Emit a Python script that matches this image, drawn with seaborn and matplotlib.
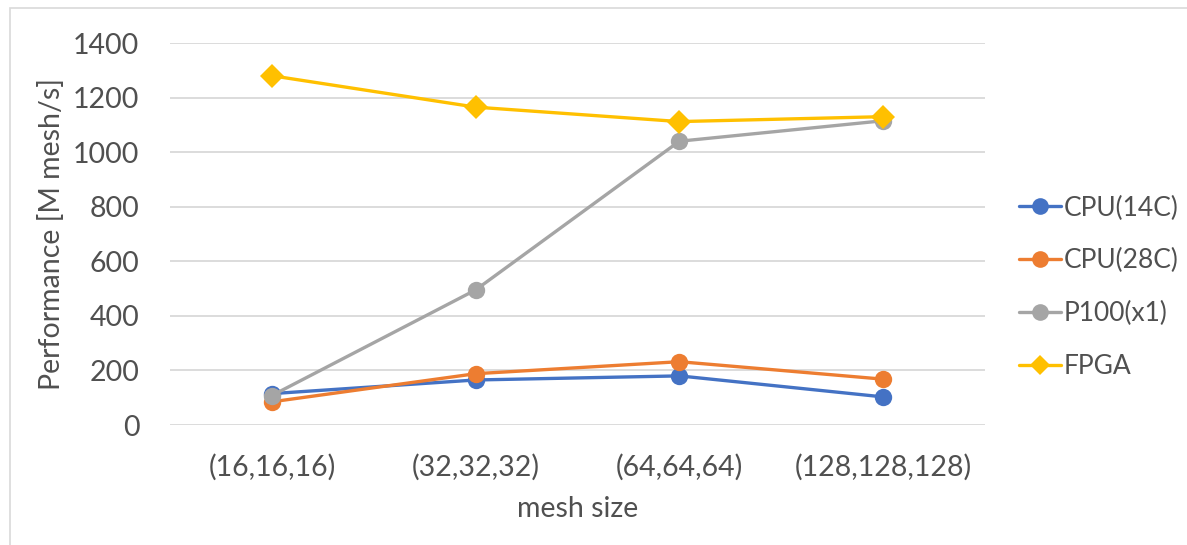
import matplotlib
matplotlib.use("Agg")
import matplotlib.pyplot as plt
import seaborn as sns
import pandas as pd
from matplotlib.patches import Rectangle
from matplotlib.lines import Line2D

categories = ["(16,16,16)", "(32,32,32)", "(64,64,64)", "(128,128,128)"]
cpu14 = [115, 165, 180, 103]
cpu28 = [85, 188, 232, 168]
p100 = [108, 495, 1040, 1115]
fpga = [1280, 1165, 1112, 1130]
series_names = ["CPU(14C)", "CPU(28C)", "P100(x1)", "FPGA"]
yticks = [0, 200, 400, 600, 800, 1000, 1200, 1400]

rows = []
for name, vals in zip(series_names, [cpu14, cpu28, p100, fpga]):
    for c, v in zip(categories, vals):
        rows.append({"mesh size": c, "Performance": v, "series": name})
df = pd.DataFrame(rows)

sns.set_theme(style="white")
plt.rcParams['font.family'] = ['Lato', 'DejaVu Sans']
text_color = "#505050"
fs = 20.5

fig = plt.figure(figsize=(11.87, 5.45), dpi=100)
ax = fig.add_axes([170/1187, 1-425/545, (985-170)/1187, (425-43)/545])

palette = {"CPU(14C)": "#4472C4", "CPU(28C)": "#ED7D31", "P100(x1)": "#A5A5A5", "FPGA": "#FFC000"}
markers = {"CPU(14C)": "o", "CPU(28C)": "o", "P100(x1)": "o", "FPGA": "D"}

sns.lineplot(data=df, x="mesh size", y="Performance", hue="series", style="series",
             palette=palette, markers=markers, dashes=False, linewidth=2.4,
             markersize=12.5, markeredgewidth=0, ax=ax, sort=False, legend=False)
for line in ax.lines:
    if line.get_marker() == "D":
        line.set_markersize(12.5)

ax.set_xlim(-0.5, 3.5)
ax.set_ylim(0, 1400)
ax.set_yticks(yticks)
ax.set_xticks(range(len(categories)))
ax.set_xticklabels(categories)
ax.yaxis.grid(True, color="#D9D9D9", linewidth=1.3)
ax.set_axisbelow(True)
for s in ax.spines.values():
    s.set_visible(False)
ax.tick_params(axis="both", length=0, labelsize=fs, colors=text_color)
ax.tick_params(axis="x", pad=21)
ax.tick_params(axis="y", pad=22)
ax.set_xlabel("mesh size", fontsize=fs, color=text_color, labelpad=11)
ax.set_ylabel("Performance [M mesh/s]", fontsize=fs, color=text_color, labelpad=6)

handles = [Line2D([0], [0], color=palette[n], marker=markers[n], linewidth=2.4,
                  markersize=(12 if markers[n] == "o" else 10.5), markeredgewidth=0) for n in series_names]
leg = fig.legend(handles, series_names, loc="upper left", bbox_to_anchor=(1008/1187, 1-185/545),
                 frameon=False, fontsize=19, labelspacing=1.05, handlelength=1.6,
                 handletextpad=0.1, borderaxespad=0)
for t in leg.get_texts():
    t.set_color(text_color)

fig.patches.append(Rectangle((10/1187, -0.05), 1.2, 1.05-8/545, transform=fig.transFigure,
                             fill=False, edgecolor="#D9D9D9", linewidth=1.2))

fig.savefig("out.png", dpi=100)
